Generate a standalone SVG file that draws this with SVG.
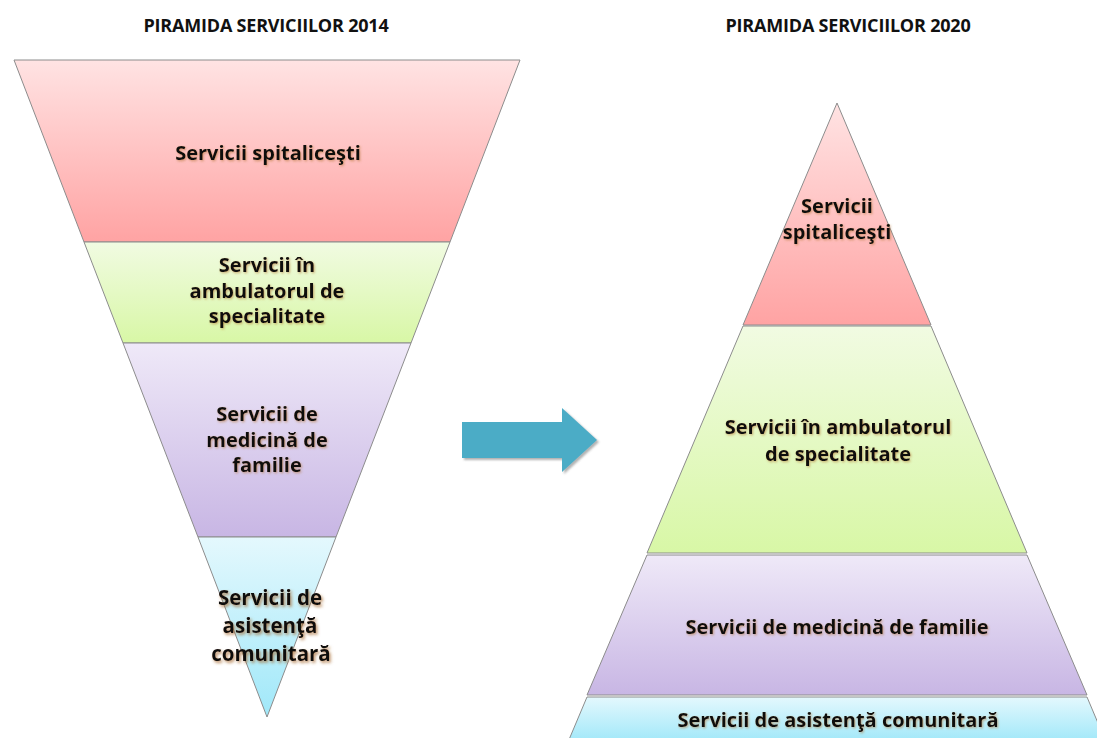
<svg xmlns="http://www.w3.org/2000/svg" width="1097" height="738" viewBox="0 0 1097 738">
<defs>
  <linearGradient id="gRed" x1="0" y1="0" x2="0" y2="1"><stop offset="0" stop-color="#FFE3E3"/><stop offset="1" stop-color="#FFA3A3"/></linearGradient>
  <linearGradient id="gGreen" x1="0" y1="0" x2="0" y2="1"><stop offset="0" stop-color="#F1FBE2"/><stop offset="1" stop-color="#D8F7A6"/></linearGradient>
  <linearGradient id="gPurple" x1="0" y1="0" x2="0" y2="1"><stop offset="0" stop-color="#EFE9F8"/><stop offset="1" stop-color="#C8B6E4"/></linearGradient>
  <linearGradient id="gBlue" x1="0" y1="0" x2="0" y2="1"><stop offset="0" stop-color="#E4F8FD"/><stop offset="1" stop-color="#A0E8F9"/></linearGradient>
  <filter id="glow" x="-10%" y="-30%" width="120%" height="160%">
    <feDropShadow dx="1" dy="1.2" stdDeviation="1" flood-color="#B07030" flood-opacity="0.55"/>
  </filter>
  <filter id="glow2" x="-15%" y="-40%" width="130%" height="180%">
    <feDropShadow dx="1.5" dy="2" stdDeviation="1.8" flood-color="#A06020" flood-opacity="0.7"/>
  </filter>
  <filter id="ashadow" x="-10%" y="-10%" width="130%" height="130%">
    <feDropShadow dx="2" dy="2" stdDeviation="1" flood-color="#555" flood-opacity="0.45"/>
  </filter>
</defs>
<style>
  .layer { stroke: #8C8C8C; stroke-width: 1; }
  .t { font-family: "Open Sans", Lato, "Liberation Sans", sans-serif; font-weight: bold; font-size: 20px; fill: #111; text-anchor: middle; filter: url(#glow); }
  .big { font-size: 20.5px; filter: url(#glow2); }
  .title { font-family: "Open Sans", Lato, "Liberation Sans", sans-serif; font-weight: bold; font-size: 18px; letter-spacing: -0.2px; fill: #111; text-anchor: middle; }
</style>
<rect width="1097" height="738" fill="#FFFFFF"/>

<text class="title" x="266" y="32">PIRAMIDA SERVICIILOR 2014</text>
<text class="title" x="848" y="32">PIRAMIDA SERVICIILOR 2020</text>

<g id="left-spital">
  <polygon class="layer" fill="url(#gRed)" points="14,60 520,60 450,242 84,242"/>
  <text class="t" x="268" y="160">Servicii spitaliceşti</text>
</g>
<g id="left-ambulator">
  <polygon class="layer" fill="url(#gGreen)" points="84,242 450,242 411,343 123,343"/>
  <text class="t" x="267" y="272">Servicii în</text>
  <text class="t" x="267" y="298">ambulatorul de</text>
  <text class="t" x="267" y="323">specialitate</text>
</g>
<g id="left-familie">
  <polygon class="layer" fill="url(#gPurple)" points="123,343 411,343 336,537 198,537"/>
  <text class="t" x="267" y="421">Servicii de</text>
  <text class="t" x="267" y="447">medicină de</text>
  <text class="t" x="267" y="472">familie</text>
</g>
<g id="left-comunitar">
  <polygon class="layer" fill="url(#gBlue)" points="198,537 336,537 267,717"/>
  <text class="t big" x="270" y="605">Servicii de</text>
  <text class="t big" x="270" y="633">asistenţă</text>
  <text class="t big" x="271" y="661">comunitară</text>
</g>

<g id="right-spital">
  <polygon class="layer" fill="url(#gRed)" points="837,103 931,325 743,325"/>
  <text class="t" x="837" y="213">Servicii</text>
  <text class="t" x="837" y="239">spitaliceşti</text>
</g>
<g id="right-ambulator">
  <polygon class="layer" fill="url(#gGreen)" points="743,326 931,326 1027,553 647,553"/>
  <text class="t" x="838" y="434">Servicii în ambulatorul</text>
  <text class="t" x="838" y="461">de specialitate</text>
</g>
<g id="right-familie">
  <polygon class="layer" fill="url(#gPurple)" points="647,555 1027,555 1087,695 587,695"/>
  <text class="t" x="837" y="634">Servicii de medicină de familie</text>
</g>
<g id="right-comunitar">
  <polygon class="layer" fill="url(#gBlue)" points="587,697 1087,697 1106,742 568,742"/>
  <text class="t" x="838" y="727">Servicii de asistenţă comunitară</text>
</g>

<g id="connectors">
  <polygon fill="#4BACC6" filter="url(#ashadow)" points="462,422 562,422 562,408 597,440 562,472 562,458 462,458"/>
</g>
</svg>
